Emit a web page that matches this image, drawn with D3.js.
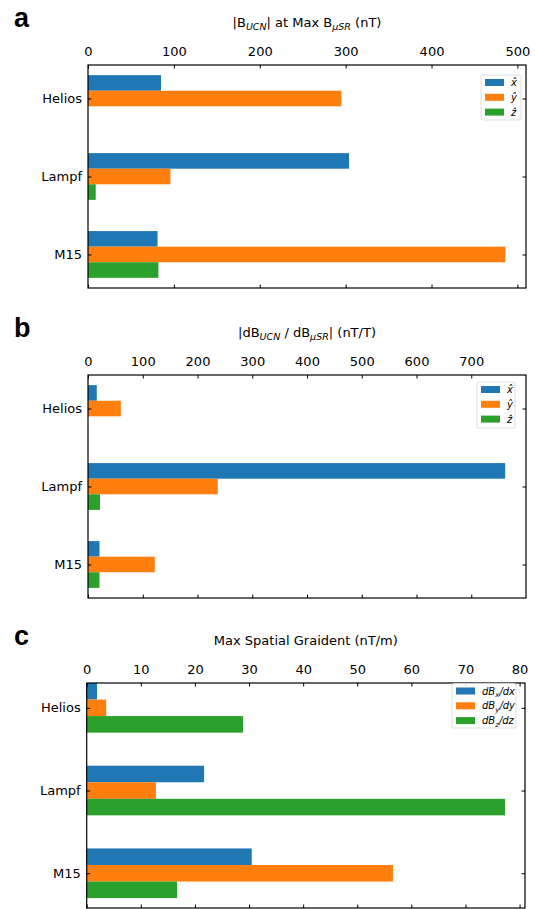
<!DOCTYPE html>
<html><head><meta charset="utf-8">
<script src="https://cdn.jsdelivr.net/npm/d3@7"></script>
<style>
html,body{margin:0;padding:0;background:#fff;}
svg{display:block;font-family:"DejaVu Sans",sans-serif;}
</style></head>
<body>
<script>
// ---- data ----
const categories = ["Helios", "Lampf", "M15"];
const seriesColors = ["#1f77b4", "#ff7f0e", "#2ca02c"];

const aTicks = [0, 100, 200, 300, 400, 500];
const aX = [85, 304, 81];
const aY = [295, 96, 486];
const aZ = [0, 9, 82];

const bTicks = [0, 100, 200, 300, 400, 500, 600, 700];
const bX = [16, 762, 21];
const bY = [60, 237, 122];
const bZ = [0, 22, 21];

const cTicks = [0, 10, 20, 30, 40, 50, 60, 70, 80];
const cX = [1.9, 21.7, 30.5];
const cY = [3.6, 12.8, 56.6];
const cZ = [28.9, 77.3, 16.7];

const hatLegend = ["x", "y", "z"];
const gradLegend = [["x", "x"], ["y", "y"], ["z", "z"]];

// ---- layout ----
const W = 535, H = 909;
const svg = d3.select("body").append("svg").attr("width", W).attr("height", H);

const panels = [
  {letter: "a", top: 65, bottom: 288, left: 88, right: 526, xmax: 510, ticks: aTicks,
   series: [aX, aY, aZ], yDom: [-0.43, 2.43], title: "a", legend: {x: 481, y: 75, w: 40, h: 45, kind: "hat"}},
  {letter: "b", top: 375, bottom: 598, left: 88, right: 526, xmax: 800, ticks: bTicks,
   series: [bX, bY, bZ], yDom: [-0.43, 2.43], title: "b", legend: {x: 477, y: 382, w: 38, h: 46, kind: "hat"}},
  {letter: "c", top: 683, bottom: 908, left: 86.7, right: 525, xmax: 81, ticks: cTicks,
   series: [cX, cY, cZ], yDom: [-0.30, 2.42], title: "c", legend: {x: 452, y: 683.5, w: 64, h: 44.5, kind: "grad"}}
];

function writeTitle(t, kind) {
  const sub = (txt) => {
    t.append("tspan").attr("dy", 3).attr("font-size", 9.5).attr("font-style", "italic").text(txt);
    return t.append("tspan").attr("dy", -3);
  };
  if (kind === "a") {
    t.append("tspan").text("|B");
    sub("UCN").text("| at Max B");
    sub("\u03bcSR").text(" (nT)");
  } else if (kind === "b") {
    t.append("tspan").text("|dB");
    sub("UCN").text(" / dB");
    sub("\u03bcSR").text("| (nT/T)");
  } else {
    t.append("tspan").text("Max Spatial Graident (nT/m)");
  }
}

panels.forEach(p => {
  const g = svg.append("g");
  const x = d3.scaleLinear().domain([0, p.xmax]).range([p.left, p.right]);
  const y = d3.scaleLinear().domain(p.yDom).range([p.top, p.bottom]);

  // bars
  p.series.forEach((vals, si) => {
    g.append("g").selectAll("rect").data(vals).join("rect")
      .attr("x", x(0))
      .attr("y", (d, i) => y(i + (si - 1) * 0.2 - 0.1))
      .attr("width", d => Math.max(0, x(d) - x(0)))
      .attr("height", (d, i) => y(i + (si - 1) * 0.2 + 0.1) - y(i + (si - 1) * 0.2 - 0.1))
      .attr("fill", seriesColors[si]);
  });

  // top axis (labels), ticks inward
  const top = g.append("g").attr("transform", `translate(0,${p.top})`)
    .call(d3.axisTop(x).tickValues(p.ticks).tickFormat(d3.format("d")).tickSize(-3.5).tickPadding(9));
  top.select(".domain").remove();
  top.selectAll("text").attr("font-size", 13).attr("font-family", "DejaVu Sans").attr("fill", "#000");
  top.selectAll("line").attr("stroke", "#000");

  const bot = g.append("g").attr("transform", `translate(0,${p.bottom})`)
    .call(d3.axisBottom(x).tickValues(p.ticks).tickFormat("").tickSize(-3.5));
  bot.select(".domain").remove();
  bot.selectAll("line").attr("stroke", "#000");

  const yTickScale = d3.scalePoint().domain(categories).range([y(0), y(2)]);
  const lax = g.append("g").attr("transform", `translate(${p.left},0)`)
    .call(d3.axisLeft(yTickScale).tickSize(-3.5).tickPadding(6));
  lax.select(".domain").remove();
  lax.selectAll("text").attr("font-size", 13).attr("font-family", "DejaVu Sans").attr("fill", "#000");
  lax.selectAll("line").attr("stroke", "#000");
  const rax = g.append("g").attr("transform", `translate(${p.right},0)`)
    .call(d3.axisRight(yTickScale).tickSize(-3.5).tickFormat(""));
  rax.select(".domain").remove();
  rax.selectAll("line").attr("stroke", "#000");

  // frame
  g.append("rect").attr("x", p.left).attr("y", p.top)
    .attr("width", p.right - p.left).attr("height", p.bottom - p.top)
    .attr("fill", "none").attr("stroke", "#000").attr("stroke-width", 1.2);

  // title
  const t = g.append("text").attr("x", (p.left + p.right) / 2).attr("y", p.top - 38)
    .attr("text-anchor", "middle").attr("font-size", 13).attr("fill", "#000");
  writeTitle(t, p.title);

  // panel letter
  svg.append("text").attr("x", 14).attr("y", p.top - 38)
    .attr("font-family", "Liberation Sans, Arial, sans-serif").attr("font-weight", "bold")
    .attr("font-size", 27).attr("fill", "#000").text(p.letter);

  // legend
  const L = p.legend;
  const lg = g.append("g");
  lg.append("rect").attr("x", L.x).attr("y", L.y).attr("width", L.w).attr("height", L.h)
    .attr("rx", 2).attr("fill", "#fff").attr("fill-opacity", 0.85)
    .attr("stroke", "#d6d6d6").attr("stroke-width", 0.8);
  const labels = L.kind === "hat" ? hatLegend : gradLegend;
  labels.forEach((lab, i) => {
    const cy = L.y + 7.5 + i * 14.8;
    lg.append("rect").attr("x", L.x + 4).attr("y", cy - 3.5).attr("width", 19).attr("height", 7)
      .attr("fill", seriesColors[i]);
    const tx = lg.append("text").attr("x", L.x + 30).attr("y", cy + 3.5)
      .attr("font-size", 10).attr("font-style", "italic").attr("fill", "#000");
    if (L.kind === "hat") {
      tx.text(lab + "\u0302");
    } else {
      tx.append("tspan").text("dB");
      tx.append("tspan").attr("dy", 2.5).attr("font-size", 7).text(lab[0]);
      tx.append("tspan").attr("dy", -2.5).text("/d" + lab[1]);
    }
  });
});
</script>
</body></html>
